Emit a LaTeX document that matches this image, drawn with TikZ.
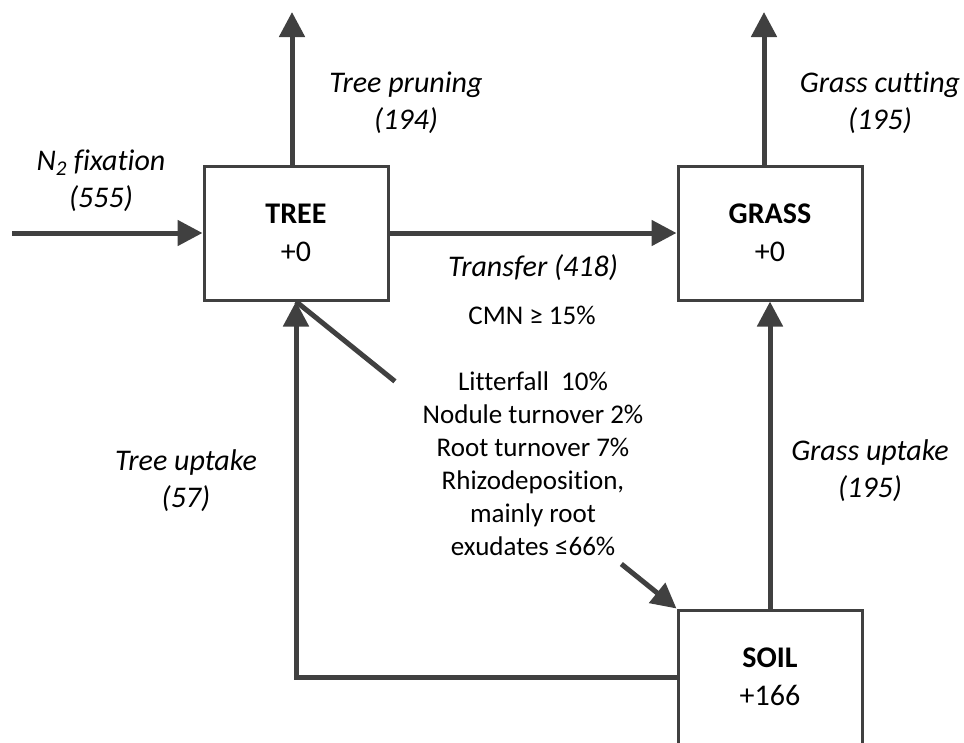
\documentclass[tikz,border=0pt]{standalone}
\usepackage{fontspec}
\setmainfont{Carlito}[Ligatures=NoCommon]
\usetikzlibrary{arrows.meta,calc}
\definecolor{flowgray}{HTML}{404040}
\begin{document}
\begin{tikzpicture}[x=1pt,y=-1pt]
\tikzset{pool/.style={draw=flowgray, line width=3pt, minimum width=184pt, minimum height=134pt, inner sep=0pt, align=center, font=\fontsize{30}{38}\selectfont},
  flux/.style={draw=flowgray, line width=5pt, -{Triangle[length=25pt,width=25pt]}},
  rate/.style={align=center, font=\fontsize{30}{37}\selectfont\itshape},
  note/.style={align=center, font=\fontsize{27}{33}\selectfont}}
    \useasboundingbox (0,0) rectangle (964,742);
    \clip (0,0) rectangle (964,742);

    \node[pool] at (296,233) (tree) {\textbf{TREE}\\+0};
    \node[pool] at (770,233) (grass) {\textbf{GRASS}\\+0};
    \node[pool] at (770,677) (soil) {\textbf{SOIL}\\+166};

    \coordinate (fixStart) at (12,233);
    \coordinate (pruneTop) at (292,12);
    \coordinate (cutTop) at (764,12);

    \node[rate] at (101,181) (fixation) {N\textsubscript{2} fixation\\(555)};
    \node[rate] at (406,103) (pruning) {Tree pruning\\(194)};
    \node[rate] at (880,103) (cutting) {Grass cutting\\(195)};
    \node[rate] at (533,268) (transfer) {Transfer (418)};
    \node[rate] at (186,481) (treeup) {Tree uptake\\(57)};
    \node[rate] at (870,471) (grassup) {Grass uptake\\(195)};
    \node[note] at (532,315) (cmn) {CMN ≥ 15\%};
    \node[note] at (533,464) (losses) {Litterfall~ 10\%\\Nodule turnover 2\%\\Root turnover 7\%\\Rhizodeposition,\\mainly root\\exudates ≤66\%};

    \draw[flux] (fixStart) -- (tree.west);
    \draw[flux] (tree.north -| pruneTop) -- (pruneTop);
    \draw[flux] (grass.north -| cutTop) -- (cutTop);
    \draw[flux] (tree.east) -- (grass.west);
    \draw[flux] (soil.north) -- (grass.south);
    \draw[flux] (soil.west) -| (tree.south);

    \coordinate (litStart) at ($(tree.south)!0.26!(soil.north west)$);
    \coordinate (litEnd) at ($(tree.south)!0.855!(soil.north west)$);
    \draw[draw=flowgray, line width=5pt] (tree.south) -- (litStart);
    \draw[flux] (litEnd) -- (soil.north west);
  \end{tikzpicture}
\end{document}
